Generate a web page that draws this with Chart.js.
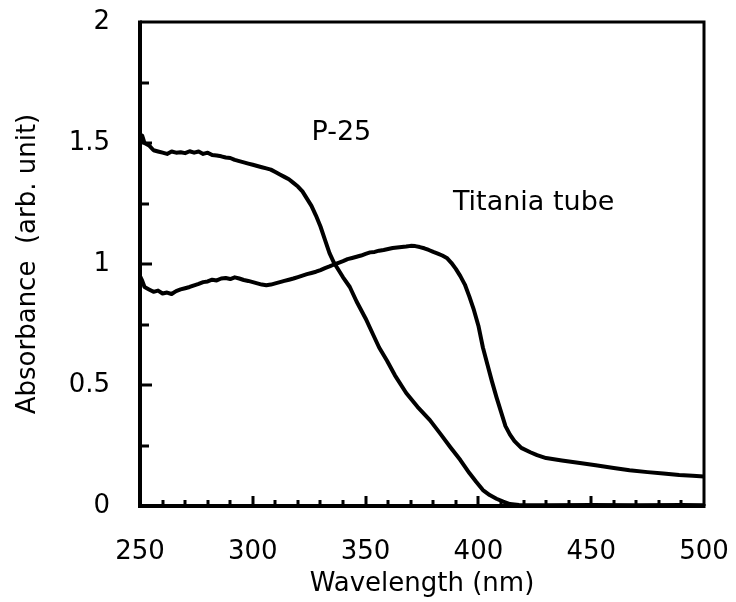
<!DOCTYPE html>
<html>
<head>
<meta charset="utf-8">
<script src="https://cdn.jsdelivr.net/npm/chart.js@4/dist/chart.umd.min.js"></script>
<style>
  html, body { margin: 0; padding: 0; background: #fff; }
  #wrap { width: 736px; height: 602px; }
</style>
</head>
<body>
<div id="wrap"><canvas id="monGraphe" width="736" height="602"></canvas></div>
<script>
// P-25 spectrum
var p25Wavelength = [250, 251, 252, 254, 256, 258, 260, 262, 264, 266, 268, 270, 272, 274, 276, 278, 280,
  282, 284, 286, 288, 290, 292, 294, 296, 298, 300, 302, 304, 306, 308, 310, 312, 314, 316, 318, 320,
  322, 324, 326, 328, 330, 332, 334, 336, 338, 340, 343, 346, 350, 353, 356, 359.5, 363, 368, 373,
  378.5, 383, 387.5, 392, 396, 399, 402, 405, 408, 411, 414, 418, 430, 450, 470, 490, 500];
var p25Absorbance = [1.52, 1.53, 1.50, 1.49, 1.47, 1.465, 1.46, 1.455, 1.465, 1.46, 1.462, 1.458, 1.466,
  1.46, 1.465, 1.455, 1.46, 1.45, 1.448, 1.445, 1.44, 1.438, 1.43, 1.425, 1.42, 1.415, 1.41, 1.405,
  1.40, 1.395, 1.39, 1.38, 1.37, 1.36, 1.35, 1.335, 1.32, 1.30, 1.27, 1.24, 1.20, 1.155, 1.10, 1.045,
  1.005, 0.975, 0.945, 0.905, 0.845, 0.775, 0.715, 0.655, 0.60, 0.54, 0.467, 0.41, 0.355, 0.30,
  0.244, 0.19, 0.136, 0.10, 0.066, 0.045, 0.03, 0.018, 0.008, 0.004, 0.003, 0.004, 0.003, 0.004, 0.003];

// Titania tube spectrum
var tubeWavelength = [250, 251, 252, 254, 256, 258, 260, 262, 264, 266, 268, 270, 272, 274, 276, 278,
  280, 282, 284, 286, 288, 290, 292, 294, 296, 298, 300, 302, 304, 306, 308, 310, 312, 314, 316, 318,
  320, 322, 324, 326, 328, 330, 332, 334, 336, 338, 340, 342, 344, 346, 348, 350, 352, 354, 356, 358,
  360, 362, 364, 366, 368, 370, 372, 374, 376, 378, 380, 382, 384, 386, 388, 390, 392, 394, 396, 398,
  400, 402, 404, 406, 408, 410, 412, 414, 416, 419, 423, 426, 430, 437, 445, 452, 460, 467, 475, 482,
  489, 495, 500];
var tubeAbsorbance = [0.95, 0.93, 0.905, 0.895, 0.885, 0.89, 0.878, 0.882, 0.876, 0.888, 0.895, 0.90,
  0.905, 0.912, 0.918, 0.925, 0.928, 0.935, 0.932, 0.94, 0.942, 0.938, 0.945, 0.94, 0.934, 0.93,
  0.925, 0.92, 0.915, 0.912, 0.915, 0.92, 0.925, 0.93, 0.935, 0.94, 0.946, 0.952, 0.958, 0.963,
  0.968, 0.975, 0.983, 0.99, 0.998, 1.005, 1.012, 1.02, 1.025, 1.03, 1.035, 1.042, 1.048, 1.05,
  1.055, 1.058, 1.062, 1.066, 1.068, 1.07, 1.072, 1.075, 1.074, 1.07, 1.065, 1.058, 1.05, 1.043,
  1.035, 1.025, 1.005, 0.98, 0.95, 0.915, 0.865, 0.81, 0.745, 0.655, 0.585, 0.515, 0.45, 0.39,
  0.33, 0.295, 0.268, 0.24, 0.222, 0.21, 0.198, 0.188, 0.178, 0.168, 0.157, 0.148, 0.14, 0.134,
  0.128, 0.125, 0.122];

// ticks
var xMinorTicks = [260, 270, 280, 290, 300, 310, 320, 330, 340, 350, 360, 370, 380, 390, 400, 410,
  420, 430, 440, 450, 460, 470, 480, 490];
var yMinorTicks = [0.25, 0.5, 0.75, 1, 1.25, 1.5, 1.75];

// labels written inside the plot (wavelength, absorbance of the left/middle of the text)
var notes = [
  { text: "P-25", x: 326, y: 1.54 },
  { text: "Titania tube", x: 388.7, y: 1.252 }
];

var police = "'DejaVu Sans', sans-serif";

function toPoints(xs, ys) {
  var pts = [];
  for (var i = 0; i < xs.length; i++) pts.push({ x: xs[i], y: ys[i] });
  return pts;
}

function sansMarge(s) {
  s.paddingTop = 0; s.paddingBottom = 0; s.paddingLeft = 0; s.paddingRight = 0;
}

var cadre = {
  id: "cadre",
  beforeDatasetsDraw: function (chart) {
    var ctx = chart.ctx, a = chart.chartArea, sx = chart.scales.x, sy = chart.scales.y;
    ctx.save();
    ctx.strokeStyle = "#000";
    ctx.lineWidth = 3;
    xMinorTicks.forEach(function (v) {
      var px = Math.round(sx.getPixelForValue(v));
      var len = (v % 50 === 0) ? 10 : 6;
      ctx.beginPath();
      ctx.moveTo(px, a.bottom);
      ctx.lineTo(px, a.bottom - len);
      ctx.stroke();
    });
    yMinorTicks.forEach(function (v) {
      var py = Math.round(sy.getPixelForValue(v));
      var len = (v % 0.5 === 0) ? 12 : 9;
      ctx.beginPath();
      ctx.moveTo(a.left, py);
      ctx.lineTo(a.left + len, py);
      ctx.stroke();
    });
    ctx.restore();
  },
  afterDatasetsDraw: function (chart) {
    var ctx = chart.ctx, a = chart.chartArea, sx = chart.scales.x, sy = chart.scales.y;
    ctx.save();
    ctx.strokeStyle = "#000";
    ctx.lineWidth = 3;
    ctx.beginPath();
    ctx.moveTo(a.left, a.top);
    ctx.lineTo(a.right, a.top);
    ctx.lineTo(a.right, a.bottom);
    ctx.stroke();
    ctx.lineWidth = 4;
    ctx.beginPath();
    ctx.moveTo(a.left, a.top - 1.5);
    ctx.lineTo(a.left, a.bottom);
    ctx.lineTo(a.right + 1.5, a.bottom);
    ctx.stroke();
    ctx.fillStyle = "#000";
    ctx.font = "27px " + police;
    ctx.textAlign = "left";
    ctx.textBaseline = "middle";
    notes.forEach(function (n) {
      ctx.fillText(n.text, sx.getPixelForValue(n.x), sy.getPixelForValue(n.y));
    });
    ctx.restore();
  }
};

Chart.defaults.color = "#000";
Chart.defaults.font.family = police;

var ctx = document.getElementById("monGraphe");
var chart = new Chart(ctx, {
  type: "line",
  data: {
    datasets: [
      {
        label: "P-25",
        data: toPoints(p25Wavelength, p25Absorbance),
        borderColor: "#000",
        borderWidth: 4,
        pointRadius: 0,
        tension: 0,
        borderJoinStyle: "round",
        borderCapStyle: "round"
      },
      {
        label: "Titania tube",
        data: toPoints(tubeWavelength, tubeAbsorbance),
        borderColor: "#000",
        borderWidth: 4,
        pointRadius: 0,
        tension: 0,
        borderJoinStyle: "round",
        borderCapStyle: "round"
      }
    ]
  },
  options: {
    responsive: false,
    animation: false,
    layout: { padding: { top: 22, right: 32, left: 0, bottom: 0 } },
    plugins: { legend: { display: false }, tooltip: { enabled: false } },
    scales: {
      x: {
        type: "linear",
        min: 250,
        max: 500,
        afterFit: function (s) { s.height = 96; sansMarge(s); },
        grid: { display: false, drawTicks: false },
        border: { display: false },
        ticks: { stepSize: 50, padding: 31, font: { size: 26 }, maxRotation: 0 },
        title: { display: true, text: "Wavelength (nm)", font: { size: 26 }, padding: { top: 0, bottom: 2 } }
      },
      y: {
        min: 0,
        max: 2,
        afterFit: function (s) { s.width = 140; sansMarge(s); },
        grid: { display: false, drawTicks: false },
        border: { display: false },
        ticks: {
          stepSize: 0.5,
          padding: 30,
          font: { size: 26 },
          callback: function (v) { return String(v); }
        },
        title: { display: true, text: "Absorbance  (arb. unit)", font: { size: 26 }, padding: { top: 13, bottom: 0 } }
      }
    }
  },
  plugins: [cadre]
});
</script>
</body>
</html>
